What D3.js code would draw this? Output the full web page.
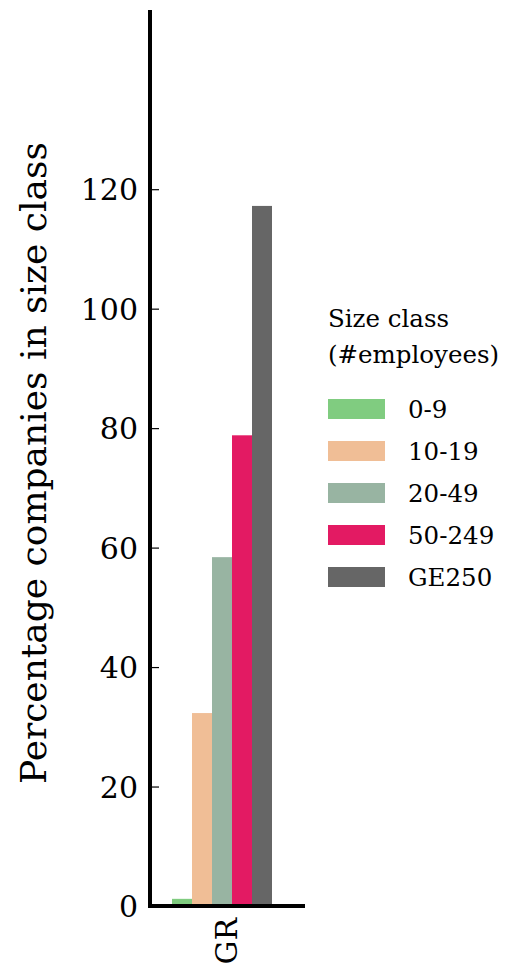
<!DOCTYPE html>
<html>
<head>
<meta charset="utf-8">
<script src="https://cdn.jsdelivr.net/npm/d3@7"></script>
<style>
  body { margin: 0; background: #fff; }
  svg text { font-family: "DejaVu Serif" !important; fill: #000; }
</style>
</head>
<body>
<script>
const width = 510;
const height = 969;

// data
const countries = ["GR"];
const sizeClasses = ["0-9", "10-19", "20-49", "50-249", "GE250"];
const values = [1.2, 32.3, 58.4, 78.8, 117.2];
const colors = ["#80cc80", "#f0be96", "#98b4a2", "#e31a63", "#666666"];
const yTicks = [0, 20, 40, 60, 80, 100, 120];

const margin = { top: 10, left: 150, bottom: 906, right: 305 };

const svg = d3.select('body').append('svg')
    .attr('width', width)
    .attr('height', height)
    .attr('font-family', 'DejaVu Serif');

const yScale = d3.scaleLinear()
    .domain([0, 150])
    .range([margin.bottom, margin.top]);

// group of bars sits between 172 and 272
const xScale = d3.scaleBand()
    .domain(countries)
    .range([172, 272])
    .padding(0);

const barScale = d3.scaleBand()
    .domain(sizeClasses)
    .range([0, xScale.bandwidth()]);

// bars
const groups = svg.append('g').selectAll('g')
    .data(countries)
    .enter()
    .append('g')
    .attr('transform', d => `translate(${xScale(d)},0)`);

groups.selectAll('rect')
    .data(sizeClasses.map((s, i) => ({ s, v: values[i], c: colors[i] })))
    .enter()
    .append('rect')
    .attr('x', d => barScale(d.s))
    .attr('width', barScale.bandwidth())
    .attr('y', d => yScale(d.v))
    .attr('height', d => yScale(0) - yScale(d.v))
    .attr('fill', d => d.c);

// y axis
const yAxis = d3.axisRight(yScale).tickValues(yTicks).tickSize(9).tickFormat(d3.format('d'));
const yg = svg.append('g')
    .attr('transform', `translate(${margin.left},0)`)
    .call(yAxis)
    .attr('font-family', null);
yg.select('.domain').remove();
yg.selectAll('.tick line').attr('stroke', '#000').attr('stroke-width', 1.2).attr('x1', 2);
yg.selectAll('.tick text')
    .attr('x', -12)
    .attr('dy', '0.35em')
    .attr('text-anchor', 'end')
    .style('font-size', '30px');

svg.append('line')
    .attr('x1', margin.left).attr('x2', margin.left)
    .attr('y1', margin.top).attr('y2', margin.bottom + 2)
    .attr('stroke', '#000').attr('stroke-width', 4);

// x axis
const xAxis = d3.axisBottom(xScale).tickSize(0);
const xg = svg.append('g')
    .attr('transform', `translate(4,${margin.bottom})`)
    .call(xAxis)
    .attr('font-family', null);
xg.select('.domain').remove();
xg.selectAll('.tick text')
    .attr('transform', 'rotate(-90)')
    .attr('x', -12)
    .attr('y', 0)
    .attr('dy', '0.35em')
    .attr('text-anchor', 'end')
    .style('font-size', '30px');

svg.append('line')
    .attr('x1', margin.left - 2).attr('x2', margin.right)
    .attr('y1', margin.bottom).attr('y2', margin.bottom)
    .attr('stroke', '#000').attr('stroke-width', 4);

// y label
svg.append('text')
    .attr('transform', `translate(46,${(margin.top + margin.bottom) / 2 + 5}) rotate(-90)`)
    .attr('text-anchor', 'middle')
    .style('font-size', '36px')
    .text('Percentage companies in size class');

// legend
const legend = svg.append('g').attr('transform', 'translate(328,0)');
legend.append('text').attr('x', 0).attr('y', 327)
    .style('font-size', '24.5px').text('Size class');
legend.append('text').attr('x', 0).attr('y', 363)
    .style('font-size', '24.5px').text('(#employees)');

const items = legend.selectAll('.item')
    .data(sizeClasses)
    .enter()
    .append('g')
    .attr('transform', (d, i) => `translate(0,${399 + i * 42})`);
items.append('rect')
    .attr('width', 57).attr('height', 20)
    .attr('fill', (d, i) => colors[i]);
items.append('text')
    .attr('x', 80).attr('y', 10).attr('dy', '0.35em')
    .style('font-size', '24.5px')
    .text(d => d);
</script>
</body>
</html>
